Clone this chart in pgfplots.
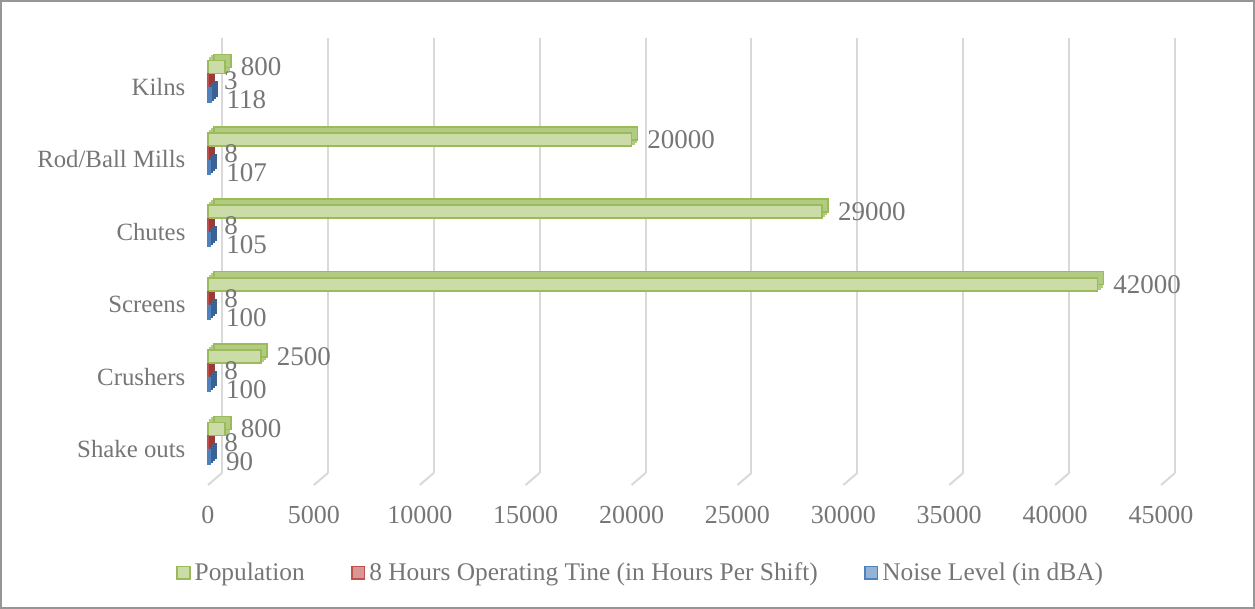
\documentclass[border=0pt]{standalone}
\usepackage{fontspec}
\setmainfont{Liberation Serif}
\usepackage{pgfplots}
\usepackage{pgfplotstable}
\pgfplotsset{compat=1.18}

\definecolor{txt}{RGB}{118,118,118}
\definecolor{gridc}{RGB}{217,217,217}
\definecolor{frame}{RGB}{150,150,150}
\definecolor{gfront}{RGB}{203,220,168}
\definecolor{gtop}{RGB}{178,203,130}
\definecolor{gedge}{RGB}{155,187,89}
\definecolor{gdark}{RGB}{125,150,75}
\definecolor{rfront}{RGB}{192,80,77}
\definecolor{rdark}{RGB}{150,60,58}
\definecolor{bfront}{RGB}{79,129,189}
\definecolor{bdark}{RGB}{58,98,148}

% y: 0 = Shake outs ... 5 = Kilns
\pgfplotstableread{
y pop hours noise
0 800 8 90
1 2500 8 100
2 42000 8 100
3 29000 8 105
4 20000 8 107
5 800 3 118
}\datatable

\pgfplotsset{
  depth/.style={forget plot, line width=1.1pt, xshift=#1, yshift=#1},
}

\begin{document}
\begin{tikzpicture}
\draw[frame, line width=0.8pt] (0.4pt,0.4pt) rectangle (627.1pt,304.1pt);
\begin{axis}[
  at={(104pt,62pt)}, anchor=south west,
  scale only axis, width=476.5pt, height=217.5pt,
  clip=false,
  xbar, bar width=6.5pt,
  xmin=0, xmax=45000, ymin=-0.497, ymax=5.51,
  xtick={0,5000,...,45000}, scaled x ticks=false,
  ytick={0,...,5},
  yticklabels={Shake outs,Crushers,Screens,Chutes,Rod/Ball Mills,Kilns},
  xmajorgrids, major grid style={line width=1pt, gridc, xshift=7pt, yshift=6pt},
  axis line style={draw=none}, major tick style={draw=none},
  /pgf/number format/1000 sep={},
  /pgf/number format/assume math mode=true,
  xticklabel style={font=\fontsize{13}{15}\selectfont, text=txt, yshift=-7pt},
  yticklabel style={font=\fontsize{12.4}{15}\selectfont, text=txt, xshift=-3.5pt},
  every node near coord/.append style={font=\fontsize{13.5}{15}\selectfont, text=txt,
    inner sep=0pt, xshift=7.5pt},
  legend columns=3,
  legend style={at={(0.455,-0.202)}, anchor=center, draw=none, fill=none,
    font=\fontsize{12.7}{15}\selectfont, text=txt,
    /tikz/every even column/.append style={column sep=21pt}},
  legend image code/.code={\draw[#1, line width=0.9pt] (0pt,-3.2pt) rectangle (6.4pt,3.2pt);},
]
% floor edge of the grid lines
\pgfplotsinvokeforeach{0,5000,10000,15000,20000,25000,30000,35000,40000,45000}{
  \draw[gridc, line width=1pt] (axis cs:#1,-0.497) -- ++(7pt,6pt);
}
% depth of the bars
\addplot[depth=1pt, fill=gtop, draw=gtop, bar shift=10pt] table[x=pop, y=y] {\datatable};
\addplot[depth=2pt, fill=gtop, draw=gtop, bar shift=10pt] table[x=pop, y=y] {\datatable};
\addplot[depth=3pt, fill=gtop, draw=gedge, line width=0.8pt, bar shift=10pt] table[x=pop, y=y] {\datatable};
\addplot[depth=1pt, fill=rdark, draw=rdark, bar shift=3pt] table[x=hours, y=y] {\datatable};
\addplot[depth=2pt, fill=rdark, draw=rdark, bar shift=3pt] table[x=hours, y=y] {\datatable};
\addplot[depth=3pt, fill=rdark, draw=rdark, bar shift=3pt] table[x=hours, y=y] {\datatable};
\addplot[depth=1pt, fill=bdark, draw=bdark, bar shift=-4pt] table[x=noise, y=y] {\datatable};
\addplot[depth=2pt, fill=bdark, draw=bdark, bar shift=-4pt] table[x=noise, y=y] {\datatable};
\addplot[depth=3pt, fill=bdark, draw=bdark, bar shift=-4pt] table[x=noise, y=y] {\datatable};
% front faces
\addplot[fill=gfront, draw=gedge, line width=0.9pt, bar shift=10pt, nodes near coords] table[x=pop, y=y] {\datatable};
\addplot[fill=rfront!60!white, draw=rfront, line width=1.1pt, bar shift=3pt, nodes near coords] table[x=hours, y=y] {\datatable};
\addplot[fill=bfront!60!white, draw=bfront, line width=1.1pt, bar shift=-4pt, nodes near coords,
  every node near coord/.append style={yshift=-2.5pt}] table[x=noise, y=y] {\datatable};
\legend{Population, 8 Hours Operating Tine (in Hours Per Shift), Noise Level (in dBA)}
\end{axis}
\end{tikzpicture}
\end{document}
